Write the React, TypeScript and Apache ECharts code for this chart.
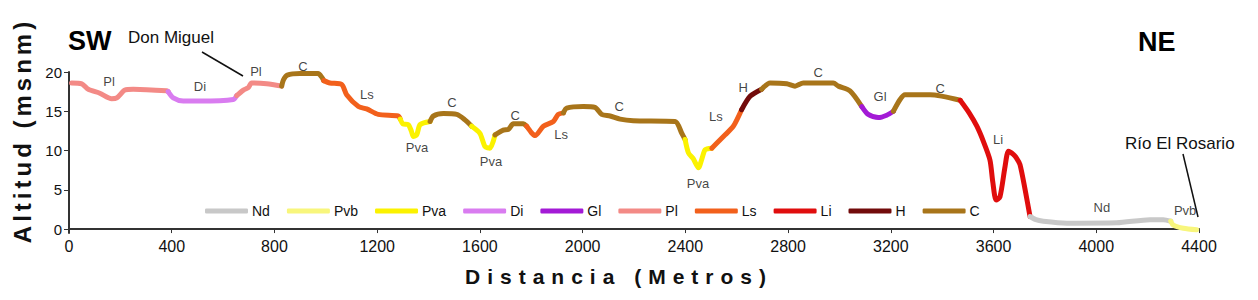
import React, { useEffect, useRef } from "react";
import * as echarts from "echarts";

// ---- categories (legend order) and colours
const categories = ["Nd", "Pvb", "Pva", "Di", "Gl", "Pl", "Ls", "Li", "H", "C"];
const categoryColors = ["#c8c8c8", "#f8f67c", "#fbf200", "#d97cf0", "#a31ad6", "#f38a86", "#f2601c", "#e00d0d", "#720b0b", "#a8751a"];

// ---- axis ticks
const yTickValues = [0, 5, 10, 15, 20];

// ---- profile segments: [distance (m), altitude (msnm)]
const segPl1 = [[10, 18.6], [50, 18.5], [75, 17.8], [120, 17.3], [166, 16.6], [186, 16.7], [218, 17.7], [250, 17.8], [380, 17.6], [386, 17.5]];
const segDi = [[386, 17.5], [406, 16.7], [445, 16.3], [510, 16.3], [640, 16.5], [653, 17.0]];
const segPl2 = [[653, 17.0], [679, 17.7], [698, 18.0], [711, 18.6], [770, 18.5], [828, 18.2]];
const segC1 = [[828, 18.2], [835, 19.0], [850, 19.6], [900, 19.8], [970, 19.8], [985, 19.3], [992, 18.9]];
const segLs1 = [[992, 18.9], [1016, 18.6], [1062, 18.4], [1081, 17.1], [1127, 15.6], [1159, 15.3], [1204, 14.6], [1282, 14.4], [1290, 14.0]];
const segPva1 = [[1290, 14.0], [1300, 13.4], [1321, 13.3], [1333, 12.5], [1341, 11.8], [1354, 12.0], [1367, 13.3], [1406, 13.7]];
const segC2 = [[1406, 13.7], [1419, 14.4], [1458, 14.7], [1510, 14.6], [1542, 13.9], [1568, 13.1]];
const segPva2 = [[1568, 13.1], [1600, 12.2], [1620, 10.5], [1639, 10.3], [1659, 12.0]];
const segC3 = [[1659, 12.0], [1691, 12.6], [1711, 12.7], [1730, 13.4], [1769, 13.4], [1782, 13.1]];
const segLs2 = [[1782, 13.1], [1800, 12.3], [1815, 11.9], [1847, 13.1], [1886, 13.7], [1905, 14.6], [1925, 14.8]];
const segC4 = [[1925, 14.8], [1938, 15.4], [2003, 15.6], [2048, 15.5], [2074, 14.6], [2107, 14.4], [2146, 14.0], [2197, 13.8], [2360, 13.7], [2386, 12.2], [2399, 11.4]];
const segPva3 = [[2399, 11.4], [2412, 9.7], [2430, 9.0], [2451, 7.8], [2465, 9.0], [2477, 10.1], [2503, 10.3]];
const segLs3 = [[2503, 10.3], [2555, 12.0], [2587, 13.1], [2619, 15.2]];
const segH = [[2619, 15.2], [2652, 16.9], [2697, 17.8]];
const segC5 = [[2697, 17.8], [2730, 18.6], [2795, 18.5], [2827, 18.2], [2859, 18.6], [2976, 18.6], [2996, 18.2], [3041, 17.6], [3087, 15.6]];
const segGl = [[3087, 15.6], [3112, 14.6], [3151, 14.2], [3184, 14.5], [3210, 15.0]];
const segC6 = [[3210, 15.0], [3236, 16.5], [3255, 17.1], [3353, 17.1], [3470, 16.4]];
const segLi = [[3470, 16.4], [3505, 14.8], [3535, 13.1], [3560, 11.2], [3586, 8.8], [3597, 6.0], [3610, 3.7], [3625, 4.1], [3645, 8.0], [3658, 9.9], [3677, 9.5], [3690, 9.0], [3703, 8.2], [3723, 5.0], [3742, 1.6]];
const segNd = [[3742, 1.6], [3765, 1.2], [3794, 1.0], [3885, 0.75], [4080, 0.8], [4209, 1.2], [4261, 1.2], [4290, 1.0]];
const segPvb = [[4290, 1.0], [4300, 0.5], [4339, 0.1], [4391, -0.1]];

const segments: [string, number[][]][] = [
  ["Pl", segPl1], ["Di", segDi], ["Pl", segPl2], ["C", segC1], ["Ls", segLs1],
  ["Pva", segPva1], ["C", segC2], ["Pva", segPva2], ["C", segC3], ["Ls", segLs2],
  ["C", segC4], ["Pva", segPva3], ["Ls", segLs3], ["H", segH], ["C", segC5],
  ["Gl", segGl], ["C", segC6], ["Li", segLi], ["Nd", segNd], ["Pvb", segPvb],
];

// ---- unit labels along the profile: [distance, altitude, text]
const unitLabels: [number, number, string][] = [
  [156, 18.8, "Pl"], [510, 18.2, "Di"], [728, 20.1, "Pl"], [911, 20.7, "C"], [1160, 17.1, "Ls"],
  [1355, 10.4, "Pva"], [1491, 16.1, "C"], [1643, 8.6, "Pva"], [1737, 14.5, "C"], [1916, 12.1, "Ls"],
  [2142, 15.6, "C"], [2449, 5.75, "Pva"], [2519, 14.3, "Ls"], [2625, 18.0, "H"], [2917, 19.95, "C"],
  [3158, 16.9, "Gl"], [3392, 17.9, "C"], [3618, 11.4, "Li"], [4022, 2.8, "Nd"], [4346, 2.4, "Pvb"],
];

const FONT = '"Liberation Sans", Arial, sans-serif';

export default function App() {
  const ref = useRef<HTMLDivElement>(null);
  useEffect(() => {
    if (!ref.current) return;
    const chart = echarts.init(ref.current, undefined, { renderer: "svg" });
    const colorOf = (c: string) => categoryColors[categories.indexOf(c)];
    const lineSeries = segments.map(([cat, data]) => ({
      type: "line",
      name: cat,
      data,
      color: colorOf(cat),
      showSymbol: false,
      symbol: "none",
      smooth: 0.25,
      clip: false,
      silent: true,
      lineStyle: { width: 5, cap: "round", join: "round", color: colorOf(cat) },
    }));
    chart.setOption({
      animation: false,
      textStyle: { fontFamily: FONT },
      grid: { left: 69, right: 59, top: 72, bottom: 67 },
      legend: {
        data: categories,
        left: 205,
        top: 204,
        padding: 0,
        itemWidth: 43,
        itemHeight: 5,
        itemGap: 17,
        icon: "roundRect",
        selectedMode: false,
        textStyle: { fontSize: 14, color: "#111", fontFamily: FONT, padding: [0, 0, 0, -1] },
      },
      xAxis: {
        type: "value",
        min: 0,
        max: 4400,
        interval: 400,
        name: "Distancia (Metros)",
        nameLocation: "middle",
        nameGap: 33,
        nameTextStyle: { fontSize: 21, fontWeight: "bold", color: "#111", padding: [0, 30, 0, 0], fontFamily: FONT },
        axisLine: { lineStyle: { color: "#333", width: 2 } },
        axisTick: { length: 4, lineStyle: { color: "#333" } },
        axisLabel: { fontSize: 16, color: "#111", margin: 5, fontFamily: FONT, formatter: (v: number) => String(v) },
        splitLine: { show: false },
      },
      yAxis: {
        type: "value",
        min: -0.5,
        max: 20,
        name: "Altitud (msnm)",
        nameLocation: "middle",
        nameRotate: 90,
        nameGap: 33,
        nameTextStyle: { fontSize: 24, fontWeight: "bold", color: "#111", padding: [0, 0, 0, 44], fontFamily: FONT },
        axisLine: { show: true, lineStyle: { color: "#333", width: 2 } },
        axisTick: { show: true, length: 5, customValues: yTickValues, lineStyle: { color: "#333" } },
        axisLabel: { fontSize: 15, color: "#111", margin: 7, customValues: yTickValues, fontFamily: FONT, formatter: (v: number) => String(v) },
        splitLine: { show: false },
      },
      graphic: [
        { type: "text", left: 68, top: 27, style: { text: "SW", font: `bold 27px ${FONT}`, fill: "#000" } },
        { type: "text", left: 1138, top: 28, style: { text: "NE", font: `bold 27px ${FONT}`, fill: "#000" } },
        { type: "text", left: 128, top: 29, style: { text: "Don Miguel", font: `17px ${FONT}`, fill: "#111" } },
        { type: "line", shape: { x1: 202, y1: 52, x2: 243, y2: 76 }, style: { stroke: "#111", lineWidth: 1.5 } },
        { type: "text", left: 1125, top: 135, style: { text: "Río El Rosario", font: `17px ${FONT}`, fill: "#111" } },
        { type: "line", shape: { x1: 1183, y1: 154, x2: 1198, y2: 217 }, style: { stroke: "#111", lineWidth: 1.5 } },
      ],
      series: [
        ...lineSeries,
        {
          type: "scatter",
          name: "labels",
          data: unitLabels.map(([x, y, t]) => ({ value: [x, y], name: t })),
          symbol: "circle",
          symbolSize: 1,
          itemStyle: { color: "rgba(0,0,0,0)" },
          clip: false,
          silent: true,
          z: 5,
          label: {
            show: true,
            position: "inside",
            formatter: "{b}",
            fontSize: 13,
            color: "#111",
            textBorderWidth: 0,
            fontFamily: FONT,
          },
        },
      ],
    });
    return () => chart.dispose();
  }, []);
  return (
    <>
      <style>{`
        .profile-chart text[style*="24px"], .profile-chart text[font-size="24px"] { letter-spacing: 4px; }
        .profile-chart text[style*="21px"], .profile-chart text[font-size="21px"] { letter-spacing: 7px; }
      `}</style>
      <div
        ref={ref}
        className="profile-chart"
        style={{ position: "fixed", left: 0, top: 0, width: 1258, height: 300, background: "#fff" }}
      />
    </>
  );
}
